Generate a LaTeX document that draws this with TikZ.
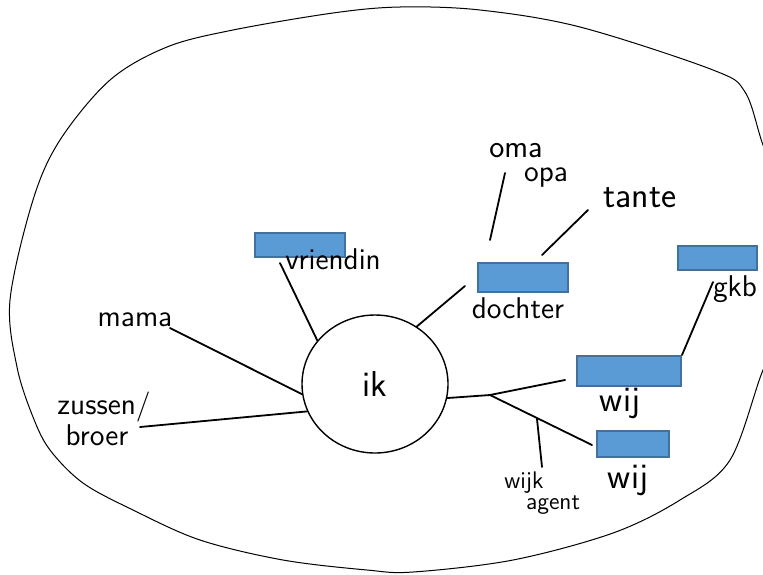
\documentclass[tikz,border=0pt]{standalone}
\usetikzlibrary{shapes.geometric}

\definecolor{vlakblauw}{HTML}{5B9BD5}
\definecolor{randblauw}{HTML}{41719C}

\tikzset{
	woord/.style = {font=\sffamily\fontsize{15}{17}\selectfont, inner sep=0pt},
	groot/.style = {font=\sffamily\fontsize{18}{20}\selectfont, inner sep=0pt},
	klein/.style = {font=\sffamily\fontsize{12}{14}\selectfont, inner sep=0pt},
	blok/.style = {draw=randblauw, fill=vlakblauw, line width=1pt, inner sep=0pt},
	lijn/.style = {line width=0.9pt, line cap=round}
}

\begin{document}
\begin{tikzpicture}[x=0.5pt, y=-0.5pt]
	\useasboundingbox (0,0) rectangle (763,574);
	% de grote kring
	\begin{scope}
		\clip (0,0) rectangle (763,574);
		\draw[line width=0.5pt] plot[smooth cycle, tension=0.55] coordinates {
			(10,300) (33,200) (60,140) (110,80) (167,47) (233,30) (333,13)
			(400,7) (480,10) (580,27) (713,70) (745,92) (763,145) (785,200)
			(795,270) (785,330) (763,370) (730,460) (680,500) (613,533)
			(513,560) (413,572) (367,570) (283,560) (200,540) (133,510)
			(83,483) (50,450) (33,417) (17,367)};
	\end{scope}

	\node[ellipse, draw, line width=0.7pt, minimum width=73pt, minimum height=69pt,
		inner sep=0pt, font=\sffamily\fontsize{18}{20}\selectfont] (ik) at (375,384) {ik};

	% blokken
	\node[blok, minimum width=45pt, minimum height=12pt] (B1) at (300,245) {};
	\node[blok, minimum width=45pt, minimum height=14.5pt] (B2) at (523,277.5) {};
	\node[blok, minimum width=39.5pt, minimum height=12pt] (B3) at (717.5,258) {};
	\node[blok, minimum width=52pt, minimum height=15pt] (B4) at (629,371) {};
	\node[blok, minimum width=36pt, minimum height=13pt] (B5) at (633,444) {};

	% woorden
	\node[woord] (vriendin) at (333,259) {vriendin};
	\node[woord] (mama) at (135,320) {mama};
	\node[woord] (zussen) at (104,407) {zussen/};
	\node[woord] (broer) at (97,435) {broer};
	\node[woord, font=\sffamily\fontsize{16}{18}\selectfont] (oma) at (516,151) {oma};
	\node[woord] (opa) at (546,178) {opa};
	\node[groot] (tante) at (640,198) {tante};
	\node[woord] (dochter) at (518,308) {dochter};
	\node[woord] (gkb) at (735,289) {gkb};
	\node[groot] (wij1) at (620,403) {wij};
	\node[groot] (wij2) at (628,480) {wij};
	\node[klein] (wijk) at (524,483) {wijk};
	\node[klein] (agent) at (553,505) {agent};

	% losse eindpunten
	\coordinate (eMama) at (170,328);
	\coordinate (eZus) at (140,427);
	\coordinate (eVriendin) at (280,263);
	\coordinate (eDochter) at (465,286);
	\coordinate (eOma) at (505,173);
	\coordinate (eOmaB) at (490,240);
	\coordinate (eTante) at (588,210);
	\coordinate (eTanteB) at (542,255);
	\coordinate (split) at (490,395);
	\coordinate (kruis) at (537,419);
	\coordinate (eWij) at (565,380);
	\coordinate (eWij2) at (592,445);
	\coordinate (eAgent) at (542,467);
	\coordinate (eGkb) at (713,282);

	% lijnen
	\draw[lijn] (ik.188) -- (eMama);
	\draw[lijn] (ik.202) -- (eZus);
	\draw[lijn] (ik.143) -- (eVriendin);
	\draw[lijn] (ik.54) -- (eDochter);
	\draw[lijn] (eOmaB) -- (eOma);
	\draw[lijn] (eTanteB) -- (eTante);
	\draw[lijn] (ik.-11) -- (split) -- (eWij);
	\draw[lijn] (split) -- (eWij2);
	\draw[lijn] (kruis) -- (eAgent);
	\draw[lijn] (B4.north east) -- (eGkb);
\end{tikzpicture}
\end{document}
